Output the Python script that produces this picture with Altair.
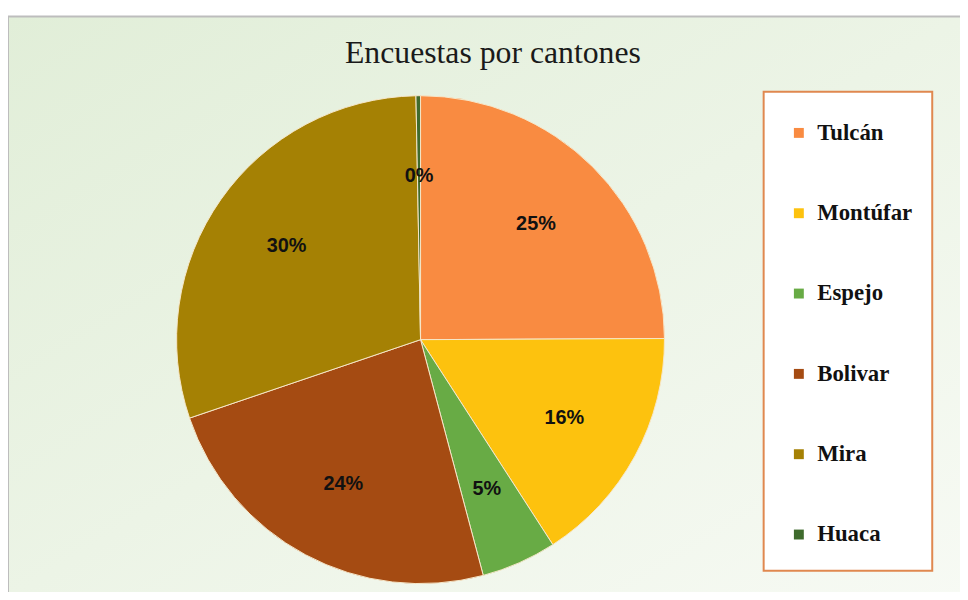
import altair as alt
import pandas as pd

# ---- data ----
cantones = ["Tulcán", "Montúfar", "Espejo", "Bolivar", "Mira", "Huaca"]
porcentajes = [25, 16, 5, 24, 30, 0.3]
colores = ["#F98B41", "#FDC20E", "#68AB45", "#A54B12", "#A58104", "#3F6B2D"]
titulo = "Encuestas por cantones"

df = pd.DataFrame({"canton": cantones, "valor": porcentajes,
                   "orden": list(range(len(cantones)))})

W, H = 960, 578
CX, CY = 416, 326
R = 246

one = pd.DataFrame({"a": [0]})

bg = alt.Chart(one).mark_rect(
    color=alt.LinearGradient(
        gradient="linear",
        stops=[alt.GradientStop(color="#E1EED8", offset=0),
               alt.GradientStop(color="#F7FAF4", offset=1)],
        x1=0, x2=1, y1=0, y2=1),
    stroke="#BDBDBD", strokeWidth=2,
).encode(x=alt.value(0), x2=alt.value(W + 4), y=alt.value(0), y2=alt.value(H + 10))

box = alt.Chart(one).mark_rect(
    fill="white", stroke="#E0884F", strokeWidth=2,
).encode(x=alt.value(762), x2=alt.value(932), y=alt.value(76), y2=alt.value(559))

base = alt.Chart(df).transform_joinaggregate(
    total="sum(valor)"
).transform_calculate(
    pct="datum.valor / datum.total"
)

pie = base.mark_arc(outerRadius=R, stroke="#F6E7C9", strokeWidth=1).encode(
    theta=alt.Theta("valor:Q", stack=True),
    order=alt.Order("orden:Q"),
    color=alt.Color(
        "canton:N",
        scale=alt.Scale(domain=cantones, range=colores),
        sort=cantones,
        legend=alt.Legend(
            title=None, orient="none", legendX=786, legendY=106,
            padding=0, rowPadding=57, symbolType="square", symbolSize=100,
            symbolStrokeWidth=0, labelFont="Liberation Serif",
            labelFontWeight="bold", labelFontSize=23, labelColor="#111111",
            labelOffset=7,
        ),
    ),
    x=alt.value(CX), y=alt.value(CY),
)

labels = base.mark_text(
    radius=165, font="Liberation Sans", fontWeight="bold", fontSize=20,
    color="#111111",
).encode(
    theta=alt.Theta("valor:Q", stack=True),
    order=alt.Order("orden:Q"),
    detail="canton:N",
    text=alt.Text("pct:Q", format=".0%"),
    x=alt.value(CX), y=alt.value(CY),
)

title = alt.Chart(one).mark_text(
    text=titulo, font="Liberation Serif", fontSize=32, color="#1A1A1A",
).encode(x=alt.value(489), y=alt.value(37))

chart = alt.layer(bg, box, pie, labels, title).properties(
    width=W, height=H,
    padding={"left": 0, "top": 6, "right": 0, "bottom": 0},
    autosize=alt.AutoSizeParams(type="none"),
).configure_view(stroke=None).configure(background="white")

chart.save("out.html", embed_options={"renderer": "svg", "actions": False})
